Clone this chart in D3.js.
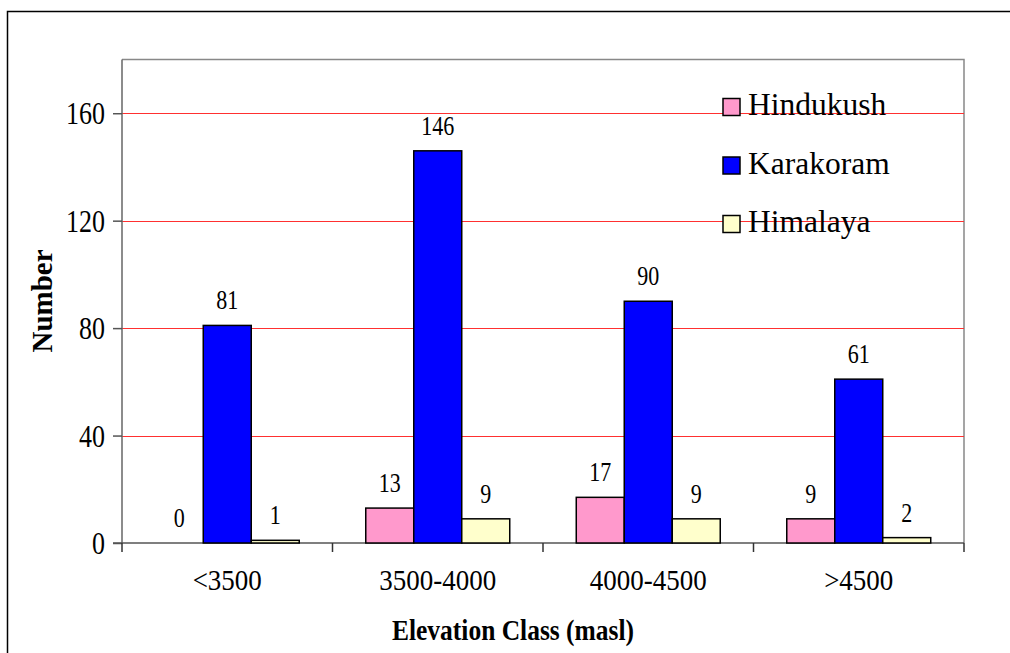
<!DOCTYPE html>
<html><head><meta charset="utf-8">
<script src="https://cdn.jsdelivr.net/npm/d3@7"></script>
<style>html,body{margin:0;padding:0;background:#fff;}svg{display:block;}svg text{font-family:"Liberation Serif",serif !important;fill:#000;}</style>
</head><body>
<svg id="c" width="1010" height="653"></svg>
<script>
const categories = ["<3500", "3500-4000", "4000-4500", ">4500"];
const seriesNames = ["Hindukush", "Karakoram", "Himalaya"];
const hindukush = [0, 13, 17, 9];
const karakoram = [81, 146, 90, 61];
const himalaya = [1, 9, 9, 2];
const yTicks = [0, 40, 80, 120, 160];
const colors = ["#FF99CC", "#0000FF", "#FFFFCC"];
const seriesValues = [hindukush, karakoram, himalaya];

const FONT = "'Liberation Serif', serif";
const svg = d3.select("#c").attr("font-family", FONT);
const L = 122, R = 964, T = 59.5, B = 543;

// outer border
svg.append("rect").attr("x", 7.5).attr("y", 11.5).attr("width", 1020).attr("height", 670)
  .attr("fill", "none").attr("stroke", "#000").attr("stroke-width", 1.5);

const y = d3.scaleLinear().domain([0, 180]).range([B, T]);
const x0 = d3.scaleBand().domain(categories).range([L, R]).padding(0);
const bw = x0.bandwidth();
const x1 = d3.scaleBand().domain(seriesNames).range([bw * 0.158, bw * 0.842]).padding(0);

// plot border (top/right)
svg.append("path").attr("d", `M${L},${T}H${R}V${B}`).attr("fill", "none")
  .attr("stroke", "#888").attr("stroke-width", 1.5);

// gridlines
svg.append("g").selectAll("line").data(yTicks.filter(d => d > 0)).join("line")
  .attr("x1", L).attr("x2", R).attr("y1", d => Math.round(y(d)) + 0.5).attr("y2", d => Math.round(y(d)) + 0.5)
  .attr("stroke", "#ff3030").attr("stroke-width", 1);

// y axis
const yAxis = d3.axisLeft(y).tickValues(yTicks).tickSize(9).tickPadding(17);
const gy = svg.append("g").attr("transform", `translate(${L},0)`).call(yAxis).attr("font-family", FONT);
gy.select(".domain").attr("stroke", "#666").attr("stroke-width", 1.5).attr("d", `M0,${T}V${B}`);
gy.selectAll(".tick line").attr("stroke", "#555").attr("stroke-width", 1.5);
gy.selectAll(".tick text").attr("font-size", 26).attr("font-family", FONT)
  .attr("x", 0).attr("transform", "translate(-17,0) scale(1,1.2)").attr("dy", "0.34em");

// x axis
const xAxis = d3.axisBottom(x0).tickSize(0).tickPadding(0);
const gx = svg.append("g").attr("transform", `translate(0,${B})`).call(xAxis).attr("font-family", FONT);
gx.select(".domain").attr("stroke", "#555").attr("stroke-width", 1.5).attr("d", `M${L - 9},0H${R}`);
gx.selectAll(".tick text").attr("font-size", 27).attr("font-family", FONT).attr("y", 0).attr("dy", null)
  .attr("transform", "translate(0,47) scale(1,1.12)");
// category separator ticks
const seps = categories.map(c => x0(c)).concat([x0(categories[categories.length - 1]) + bw]);
gx.append("g").selectAll("line").data(seps).join("line")
  .attr("x1", d => d).attr("x2", d => d).attr("y1", 0).attr("y2", 9)
  .attr("stroke", "#333").attr("stroke-width", 1.5);

// bars
const groups = svg.append("g").selectAll("g").data(categories).join("g")
  .attr("transform", c => `translate(${x0(c)},0)`);
groups.selectAll("rect").data((c, i) => seriesNames.map((s, j) => ({s, v: seriesValues[j][i], j})))
  .join("rect")
  .attr("x", d => x1(d.s)).attr("width", x1.bandwidth())
  .attr("y", d => y(d.v)).attr("height", d => y(0) - y(d.v))
  .attr("fill", d => colors[d.j]).attr("stroke", "#000").attr("stroke-width", 1.5);
groups.selectAll("text").data((c, i) => seriesNames.map((s, j) => ({s, v: seriesValues[j][i], j})))
  .join("text")
  .attr("text-anchor", "middle").attr("font-size", 22).attr("font-family", FONT)
  .attr("transform", d => `translate(${x1(d.s) + x1.bandwidth() / 2},${y(d.v) - 16}) scale(1,1.25)`)
  .text(d => d.v);

// axis titles
svg.append("text").attr("text-anchor", "middle").attr("font-weight", "bold").attr("font-size", 25.5)
  .attr("font-family", FONT)
  .attr("transform", "translate(513,640) scale(1,1.18)").text("Elevation Class (masl)");
svg.append("text").attr("text-anchor", "middle").attr("font-weight", "bold").attr("font-size", 29)
  .attr("font-family", FONT)
  .attr("transform", "translate(52,301) rotate(-90)").text("Number");

// legend
const lg = svg.append("g").selectAll("g").data(seriesNames).join("g")
  .attr("transform", (d, i) => `translate(723,${107 + i * 58.5})`);
lg.append("rect").attr("x", 0).attr("y", -8.5).attr("width", 17).attr("height", 17)
  .attr("fill", (d, i) => colors[i]).attr("stroke", "#000").attr("stroke-width", 1.5);
lg.append("text").attr("x", 25).attr("y", 8).attr("font-size", 31.5).attr("font-family", FONT).text(d => d);
</script>
</body></html>
